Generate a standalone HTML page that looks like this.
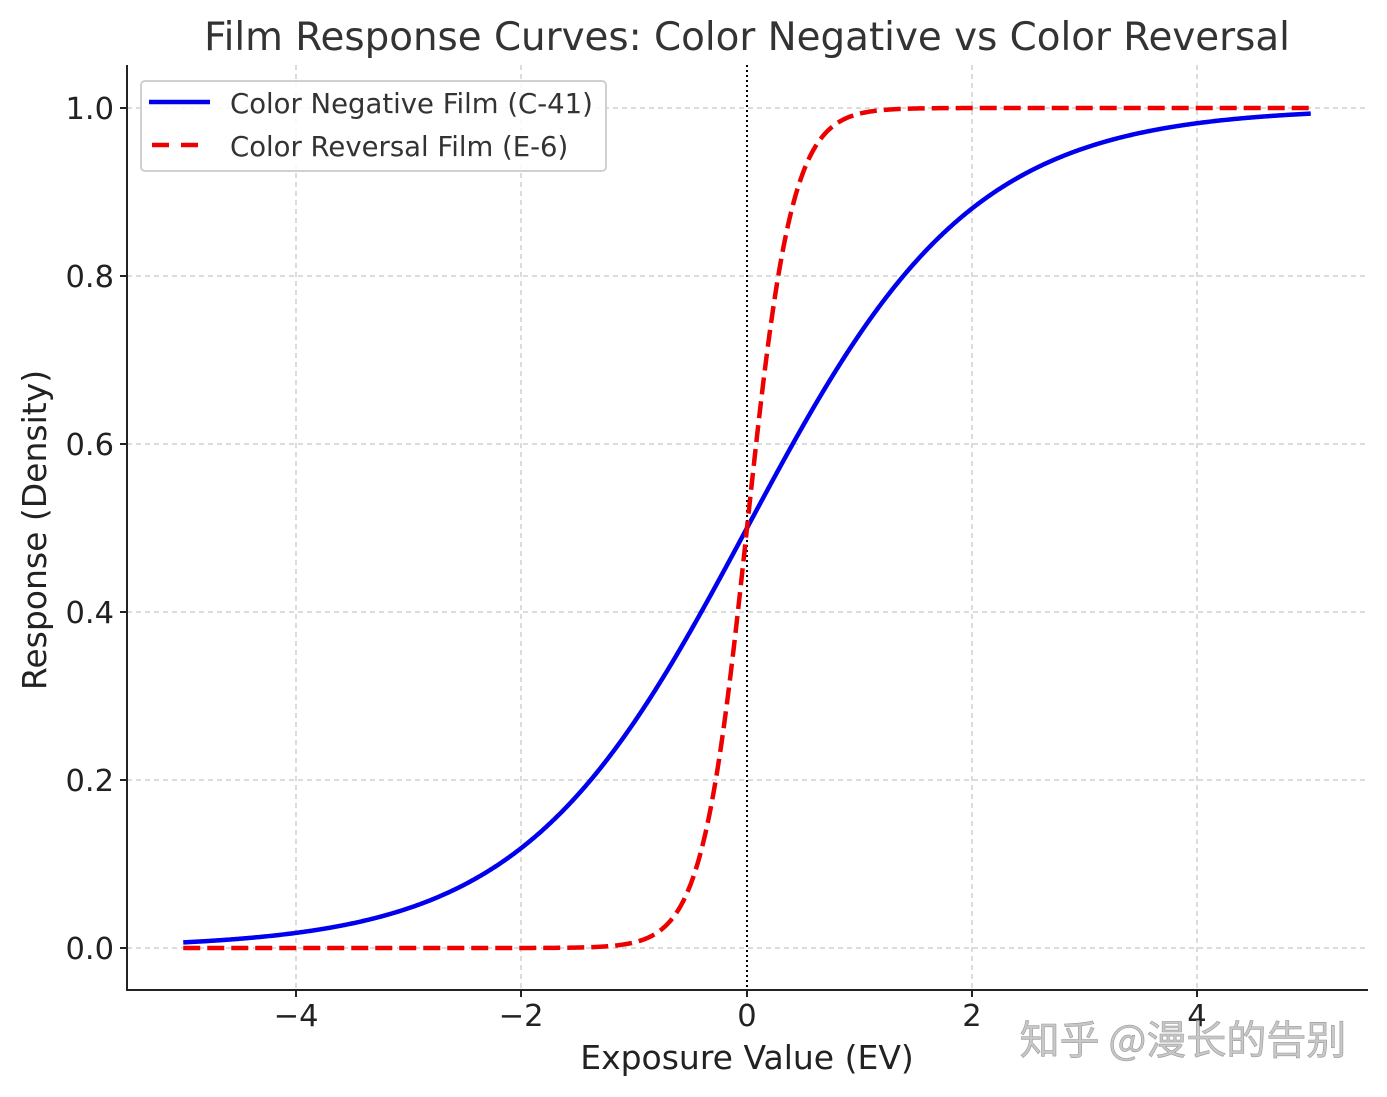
<!DOCTYPE html>
<html><head><meta charset="utf-8"><style>
html,body{margin:0;padding:0;background:#fff;}
svg{display:block;font-family:"DejaVu Sans","Liberation Sans",sans-serif;}
</style></head><body>
<svg id="s" width="1387" height="1097" viewBox="0 0 1387 1097" xmlns="http://www.w3.org/2000/svg">
<rect width="1387" height="1097" fill="#fff"/>
<text x="747" y="50" font-size="38.8" fill="#333" text-anchor="middle">Film Response Curves: Color Negative vs Color Reversal</text>
<g stroke="#c8c8c8" stroke-width="1.3" stroke-dasharray="5,4">
<line x1="296" y1="65" x2="296" y2="990"/><line x1="521" y1="65" x2="521" y2="990"/>
<line x1="972" y1="65" x2="972" y2="990"/><line x1="1197" y1="65" x2="1197" y2="990"/>
<line x1="127" y1="948" x2="1368" y2="948"/><line x1="127" y1="780" x2="1368" y2="780"/>
<line x1="127" y1="612" x2="1368" y2="612"/><line x1="127" y1="444" x2="1368" y2="444"/>
<line x1="127" y1="276" x2="1368" y2="276"/><line x1="127" y1="108" x2="1368" y2="108"/>
</g>
<line x1="747" y1="65" x2="747" y2="990" stroke="#000" stroke-width="2" stroke-dasharray="2,3"/>
<path id="b" fill="none" stroke="#0000ee" stroke-width="4.5"/>
<path id="r" fill="none" stroke="#ee0000" stroke-width="4.5" stroke-dasharray="17,7"/>
<g stroke="#222" stroke-width="2">
<line x1="127" y1="65" x2="127" y2="991"/><line x1="126" y1="990" x2="1368" y2="990"/>
<line x1="296" y1="990" x2="296" y2="997"/><line x1="521" y1="990" x2="521" y2="997"/><line x1="747" y1="990" x2="747" y2="997"/><line x1="972" y1="990" x2="972" y2="997"/><line x1="1197" y1="990" x2="1197" y2="997"/>
<line x1="120" y1="948" x2="127" y2="948"/><line x1="120" y1="780" x2="127" y2="780"/><line x1="120" y1="612" x2="127" y2="612"/><line x1="120" y1="444" x2="127" y2="444"/><line x1="120" y1="276" x2="127" y2="276"/><line x1="120" y1="108" x2="127" y2="108"/>
</g>
<g font-size="30.5" fill="#222" text-anchor="middle">
<text x="296" y="1026">−4</text><text x="521" y="1026">−2</text><text x="747" y="1026">0</text><text x="972" y="1026">2</text><text x="1197" y="1026">4</text>
</g>
<g font-size="30.5" fill="#222" text-anchor="end">
<text x="114" y="959">0.0</text><text x="114" y="791">0.2</text><text x="114" y="623">0.4</text><text x="114" y="455">0.6</text><text x="114" y="287">0.8</text><text x="114" y="119">1.0</text>
</g>
<text x="747" y="1069" font-size="33" fill="#222" text-anchor="middle">Exposure Value (EV)</text>
<text transform="translate(46,530) rotate(-90)" font-size="33" fill="#222" text-anchor="middle">Response (Density)</text>
<text x="1183" y="1054" font-size="40" fill="#c8c8c8" stroke="#999" stroke-width="0.6" text-anchor="middle" font-family="'Noto Sans CJK SC',sans-serif">知乎 @漫长的告别</text>
<rect x="141" y="81" width="465" height="90" rx="4" fill="#fff" fill-opacity="0.85" stroke="#d0d0d0" stroke-width="2"/>
<line x1="149" y1="102" x2="210" y2="102" stroke="#0000ee" stroke-width="4.5"/>
<line x1="152" y1="145" x2="210" y2="145" stroke="#ee0000" stroke-width="4.5" stroke-dasharray="17,12"/>
<g font-size="27.5" fill="#333"><text x="230" y="113">Color Negative Film (C-41)</text><text x="230" y="156">Color Reversal Film (E-6)</text></g>
<script>
function mk(k){var d="";for(var i=0;i<=1000;i++){var x=-5+i/100;var y=1/(1+Math.exp(-k*x));d+=(i?"L":"M")+(747+x*112.75).toFixed(2)+","+(948-y*840).toFixed(2);}return d;}
document.getElementById("b").setAttribute("d",mk(1));
document.getElementById("r").setAttribute("d",mk(5));
</script>
</svg>
</body></html>
